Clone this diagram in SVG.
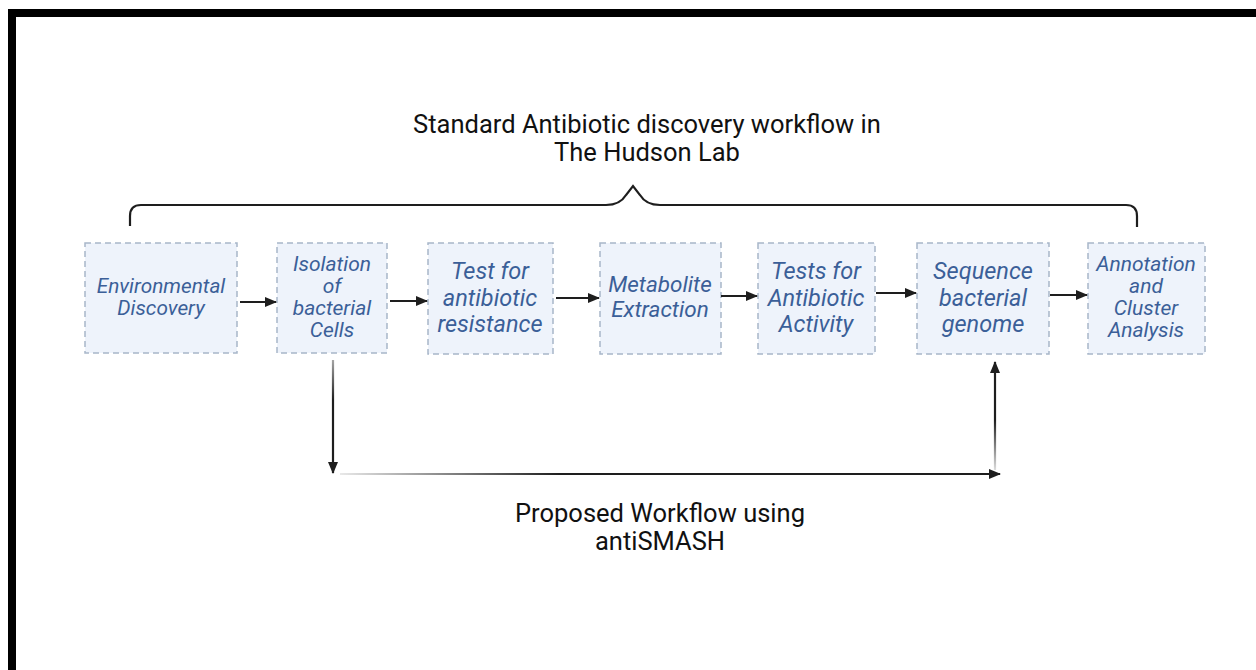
<svg xmlns="http://www.w3.org/2000/svg" width="1256" height="670" viewBox="0 0 1256 670">
<style>
.box{fill:#eef3fb;stroke:#a8b6c9;stroke-width:1.5;stroke-dasharray:6 4}
.nt{font-family:Roboto,"Liberation Sans",sans-serif;font-style:italic;fill:#3b5f98;text-anchor:middle}
.t{font-family:Roboto,"Liberation Sans",sans-serif;font-size:25.5px;fill:#111;text-anchor:middle}
.c{fill:none;stroke:#1e1e1e;stroke-width:2.2}
</style>
<defs>
<marker id="ah" markerWidth="12" markerHeight="11" refX="11" refY="5.5" orient="auto" markerUnits="userSpaceOnUse">
<path d="M0,0.5 L12,5.5 L0,10.5 Z" fill="#1e1e1e"/>
</marker>
<linearGradient id="gh" gradientUnits="userSpaceOnUse" x1="340" y1="0" x2="560" y2="0">
<stop offset="0" stop-color="#1e1e1e" stop-opacity="0.1"/>
<stop offset="1" stop-color="#1e1e1e" stop-opacity="1"/>
</linearGradient>
<linearGradient id="gu" gradientUnits="userSpaceOnUse" x1="0" y1="470" x2="0" y2="420">
<stop offset="0" stop-color="#1e1e1e" stop-opacity="0.15"/>
<stop offset="1" stop-color="#1e1e1e" stop-opacity="1"/>
</linearGradient>
<linearGradient id="gd" gradientUnits="userSpaceOnUse" x1="0" y1="360" x2="0" y2="400">
<stop offset="0" stop-color="#1e1e1e" stop-opacity="0.4"/>
<stop offset="1" stop-color="#1e1e1e" stop-opacity="1"/>
</linearGradient>
</defs>
<rect x="0" y="0" width="1256" height="670" fill="#fff"/>
<rect x="8" y="9" width="1248" height="8" fill="#000"/>
<rect x="8" y="9" width="8" height="661" fill="#000"/>

<g id="title">
<text class="t" x="647" y="133">Standard Antibiotic discovery workflow in</text>
<text class="t" x="647" y="161">The Hudson Lab</text>
</g>
<g id="brace">
<path class="c" d="M130,226 L130,216 Q130,205 141,205 L606,205 Q620,205 626,195 L633,186 L640,195 Q646,205 660,205 L1126,205 Q1137,205 1137,216 L1137,227"/>
</g>

<g id="n1"><rect class="box" x="85" y="243" width="152" height="110"/>
<text class="nt" font-size="20.8" x="161" y="293">Environmental</text>
<text class="nt" font-size="20.8" x="161" y="315">Discovery</text></g>
<g id="n2"><rect class="box" x="277" y="243" width="110" height="110"/>
<text class="nt" font-size="21" x="332" y="271">Isolation</text>
<text class="nt" font-size="21" x="332" y="293">of</text>
<text class="nt" font-size="21" x="332" y="315">bacterial</text>
<text class="nt" font-size="21" x="332" y="337">Cells</text></g>
<g id="n3"><rect class="box" x="428" y="243" width="125" height="111"/>
<text class="nt" font-size="23.5" x="490" y="279">Test for</text>
<text class="nt" font-size="23.5" x="490" y="305.5">antibiotic</text>
<text class="nt" font-size="23.5" x="490" y="332">resistance</text></g>
<g id="n4"><rect class="box" x="600" y="243" width="121" height="111"/>
<text class="nt" font-size="22.5" x="660" y="292">Metabolite</text>
<text class="nt" font-size="22.5" x="660" y="317">Extraction</text></g>
<g id="n5"><rect class="box" x="758" y="243" width="117" height="111"/>
<text class="nt" font-size="23.5" x="816" y="279">Tests for</text>
<text class="nt" font-size="23.5" x="816" y="305.5">Antibiotic</text>
<text class="nt" font-size="23.5" x="816" y="332">Activity</text></g>
<g id="n6"><rect class="box" x="917" y="243" width="132" height="111"/>
<text class="nt" font-size="23.5" x="983" y="279">Sequence</text>
<text class="nt" font-size="23.5" x="983" y="305.5">bacterial</text>
<text class="nt" font-size="23.5" x="983" y="332">genome</text></g>
<g id="n7"><rect class="box" x="1088" y="243" width="117" height="111"/>
<text class="nt" font-size="21" x="1146" y="271">Annotation</text>
<text class="nt" font-size="21" x="1146" y="293">and</text>
<text class="nt" font-size="21" x="1146" y="315">Cluster</text>
<text class="nt" font-size="21" x="1146" y="337">Analysis</text></g>

<g id="connectors">
<line class="c" x1="240" y1="302" x2="276" y2="302" marker-end="url(#ah)"/>
<line class="c" x1="390" y1="301" x2="427" y2="301" marker-end="url(#ah)"/>
<line class="c" x1="556" y1="298" x2="599" y2="298" marker-end="url(#ah)"/>
<line class="c" x1="721" y1="296" x2="757" y2="296" marker-end="url(#ah)"/>
<line class="c" x1="876" y1="293" x2="916" y2="293" marker-end="url(#ah)"/>
<line class="c" x1="1050" y1="295" x2="1087" y2="295" marker-end="url(#ah)"/>
<line x1="333" y1="360" x2="333" y2="473" stroke="url(#gd)" stroke-width="2.2" marker-end="url(#ah)"/>
<line x1="340" y1="474" x2="1000" y2="474" stroke="url(#gh)" stroke-width="2.2" marker-end="url(#ah)"/>
<line x1="995" y1="470" x2="995" y2="362" stroke="url(#gu)" stroke-width="2.2" marker-end="url(#ah)"/>
</g>

<g id="subtitle">
<text class="t" x="660" y="522">Proposed Workflow using</text>
<text class="t" x="660" y="550">antiSMASH</text>
</g>
</svg>
